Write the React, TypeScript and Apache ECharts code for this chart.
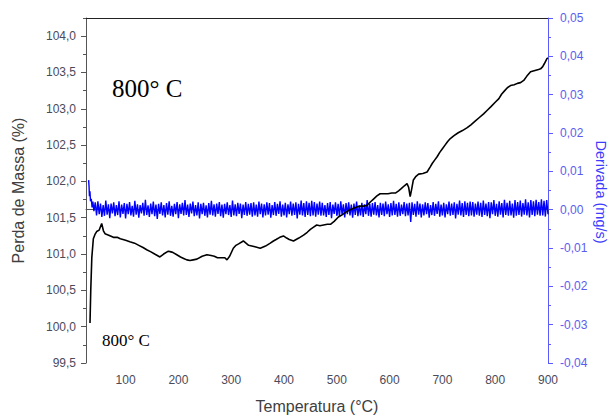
import React, { useEffect, useRef } from "react";
import * as echarts from "echarts";

// Mass curve: [temperature °C, mass %]
const massCurve: [number, number][] = [
  [32.6, 100.05], [34, 100.5], [36, 100.95], [38.9, 101.21], [42, 101.27], [45.2, 101.31], [50, 101.33],
  [54.7, 101.42], [58, 101.32], [61, 101.28], [68, 101.26], [76.8, 101.23], [84, 101.23], [90, 101.21],
  [100, 101.19], [108, 101.17], [117, 101.15], [125, 101.12], [133, 101.09], [140, 101.06], [148, 101.03],
  [155, 101.0], [160, 100.98], [165, 100.96], [172, 101.0], [181, 101.04], [186, 101.03], [190, 101.02],
  [197, 100.99], [204, 100.96], [210, 100.94], [216, 100.92], [222, 100.91], [228, 100.92], [235, 100.93],
  [245, 100.97], [254, 100.99], [262, 100.98], [268, 100.97], [274, 100.95], [279, 100.95], [288, 100.95],
  [292, 100.92], [297, 100.97], [304, 101.08], [309, 101.12], [314, 101.14], [323, 101.18], [328, 101.15],
  [333, 101.12], [339, 101.11], [345, 101.1], [355, 101.08], [365, 101.11], [374, 101.15], [380, 101.18],
  [385, 101.2], [392, 101.23], [399, 101.25], [405, 101.22], [410, 101.2], [418, 101.18], [428, 101.22],
  [437, 101.26], [444, 101.3], [450, 101.34], [456, 101.37], [462, 101.4], [468, 101.39], [475, 101.4],
  [482, 101.41], [488, 101.41], [495, 101.45], [503, 101.51], [510, 101.54], [518, 101.58], [525, 101.61],
  [532, 101.63], [539, 101.65], [545, 101.66], [551, 101.66], [557, 101.67], [564, 101.72], [570, 101.76],
  [576, 101.8], [582, 101.83], [590, 101.83], [597, 101.83], [604, 101.84], [611, 101.84], [617, 101.87],
  [622, 101.9], [628, 101.94], [633, 101.97], [636, 101.92], [639, 101.79], [642, 101.9], [645, 102.02],
  [650, 102.07], [655, 102.1], [663, 102.11], [671, 102.13], [677, 102.2], [681, 102.25], [686, 102.3],
  [690, 102.34], [695, 102.4], [700, 102.45], [705, 102.5], [710, 102.55], [715, 102.59], [722, 102.63],
  [730, 102.67], [738, 102.7], [747, 102.74], [754, 102.78], [762, 102.83], [770, 102.88], [778, 102.93],
  [785, 102.98], [792, 103.03], [800, 103.09], [807, 103.14], [812, 103.2], [818, 103.25], [823, 103.29],
  [829, 103.32], [836, 103.33], [842, 103.35], [848, 103.36], [854, 103.39], [860, 103.45], [867, 103.51],
  [872, 103.52], [877, 103.53], [882, 103.54], [886, 103.55], [890, 103.58], [893, 103.62], [898, 103.69],
  [900, 103.7],
];

// Derivative curve: [temperature °C, mg/s]
const derivCurve: [number, number][] = [
  [30, 0.0077], [30.8, 0.006], [31.5, 0.0035], [32.5, 0.0048], [33.5, 0.0022], [35, 0.0028], [36.5, 0.0006],
  [38, 0.0021], [40, -0.0004], [42.5, 0.0019], [45, -0.0015], [47.5, 0.0022], [50, -0.0012], [52.5, 0.0016],
  [55, -0.0019], [57.5, 0.0012], [60, -0.0016], [62.5, 0.0024], [65, -0.0013], [67.5, 0.0014],
  [70, -0.0022], [72.5, 0.0016], [75, -0.001], [77.5, 0.0019], [80, -0.0017], [82.5, 0.0012],
  [85, -0.0014], [87.5, 0.0022], [90, -0.002], [92.5, 0.0013], [95, -0.0011], [97.5, 0.0017],
  [100, -0.0023], [102.5, 0.0015], [105, -0.0012], [107.5, 0.002], [110, -0.0015], [112.5, 0.001],
  [115, -0.0018], [117.5, 0.0023], [120, -0.0013], [122.5, 0.0014], [125, -0.0021], [127.5, 0.0012],
  [130, -0.001], [132.5, 0.0018], [135, -0.0016], [137.5, 0.0026], [140, -0.0014], [142.5, 0.0011],
  [145, -0.0019], [147.5, 0.0016], [150, -0.0012], [152.5, 0.0021], [155, -0.0017], [157.5, 0.0013],
  [160, -0.0024], [162.5, 0.0015], [165, -0.0011], [167.5, 0.0019], [170, -0.0015], [172.5, 0.0012],
  [175, -0.002], [177.5, 0.0017], [180, -0.0013], [182.5, 0.0022], [185, -0.0016], [187.5, 0.001],
  [190, -0.0018], [192.5, 0.0015], [195, -0.0012], [197.5, 0.002], [200, -0.0022], [202.5, 0.0014],
  [205, -0.0011], [207.5, 0.0018], [210, -0.0015], [212.5, 0.0025], [215, -0.0014], [217.5, 0.0013],
  [220, -0.0019], [222.5, 0.0016], [225, -0.001], [227.5, 0.0021], [230, -0.0017], [232.5, 0.0012],
  [235, -0.0015], [237.5, 0.0019], [240, -0.0023], [242.5, 0.0015], [245, -0.0012], [247.5, 0.0018],
  [250, -0.0016], [252.5, 0.0011], [255, -0.002], [257.5, 0.0017], [260, -0.0013], [262.5, 0.0023],
  [265, -0.0015], [267.5, 0.0014], [270, -0.0018], [272.5, 0.0016], [275, -0.0011], [277.5, 0.002],
  [280, -0.0017], [282.5, 0.0013], [285, -0.0021], [287.5, 0.0015], [290, -0.0012], [292.5, 0.0019],
  [295, -0.0014], [297.5, 0.0012], [300, -0.0019], [302.5, 0.0024], [305, -0.0015], [307.5, 0.0014],
  [310, -0.0017], [312.5, 0.0018], [315, -0.0011], [317.5, 0.0016], [320, -0.0022], [322.5, 0.0013],
  [325, -0.0014], [327.5, 0.002], [330, -0.0016], [332.5, 0.0015], [335, -0.0013], [337.5, 0.0017],
  [340, -0.0018], [342.5, 0.0019], [345, -0.0015], [347.5, 0.0013], [350, -0.0018], [352.5, 0.0021],
  [355, -0.0012], [357.5, 0.0016], [360, -0.002], [362.5, 0.0014], [365, -0.0015], [367.5, 0.0019],
  [370, -0.0013], [372.5, 0.0017], [375, -0.0021], [377.5, 0.0012], [380, -0.0014], [382.5, 0.002],
  [385, -0.0016], [387.5, 0.0015], [390, -0.0011], [392.5, 0.0022], [395, -0.0018], [397.5, 0.0013],
  [400, -0.0015], [402.5, 0.0018], [405, -0.002], [407.5, 0.0014], [410, -0.0012], [412.5, 0.0021],
  [415, -0.0016], [417.5, 0.0016], [420, -0.0014], [422.5, 0.0019], [425, -0.0023], [427.5, 0.0015],
  [430, -0.0013], [432.5, 0.0024], [435, -0.0015], [437.5, 0.0017], [440, -0.0019], [442.5, 0.0022],
  [445, -0.0014], [447.5, 0.0018], [450, -0.0017], [452.5, 0.0023], [455, -0.0015], [457.5, 0.002],
  [460, -0.0018], [462.5, 0.0016], [465, -0.0013], [467.5, 0.0021], [470, -0.0016], [472.5, 0.0018],
  [475, -0.0015], [477.5, 0.0012], [480, -0.0019], [482.5, 0.0017], [485, -0.0014], [487.5, 0.002],
  [490, -0.0022], [492.5, 0.0013], [495, -0.0011], [497.5, 0.0019], [500, -0.0016], [502.5, 0.0015],
  [505, -0.0018], [507.5, 0.0022], [510, -0.0013], [512.5, 0.0014], [515, -0.002], [517.5, 0.0017],
  [520, -0.0012], [522.5, 0.0019], [525, -0.0015], [527.5, 0.0013], [530, -0.0021], [532.5, 0.0016],
  [535, -0.0014], [537.5, 0.0021], [540, -0.0017], [542.5, 0.0011], [545, -0.0015], [547.5, 0.0018],
  [550, -0.0019], [552.5, 0.0014], [555, -0.0012], [557.5, 0.0025], [560, -0.0016], [562.5, 0.0015],
  [565, -0.0018], [567.5, 0.0017], [570, -0.0013], [572.5, 0.002], [575, -0.0015], [577.5, 0.0012],
  [580, -0.002], [582.5, 0.0018], [585, -0.0014], [587.5, 0.0016], [590, -0.0017], [592.5, 0.0021],
  [595, -0.0012], [597.5, 0.0014], [600, -0.0019], [602.5, 0.0017], [605, -0.0015], [607.5, 0.0023],
  [610, -0.0014], [612.5, 0.0015], [615, -0.0018], [617.5, 0.0019], [620, -0.0016], [622.5, 0.0013],
  [625, -0.0012], [627.5, 0.002], [630, -0.0017], [632.5, 0.0016], [635, -0.0015], [637.5, 0.0018],
  [640, -0.0032], [642.5, 0.0019], [645, -0.0014], [647.5, 0.0015], [650, -0.0018], [652.5, 0.0022],
  [655, -0.0013], [657.5, 0.0016], [660, -0.002], [662.5, 0.0014], [665, -0.0015], [667.5, 0.0019],
  [670, -0.0012], [672.5, 0.0017], [675, -0.0021], [677.5, 0.0012], [680, -0.0014], [682.5, 0.002],
  [685, -0.0016], [687.5, 0.0015], [690, -0.0011], [692.5, 0.0022], [695, -0.0018], [697.5, 0.0013],
  [700, -0.0015], [702.5, 0.0018], [705, -0.002], [707.5, 0.0014], [710, -0.0012], [712.5, 0.0021],
  [715, -0.0016], [717.5, 0.0016], [720, -0.0014], [722.5, 0.0019], [725, -0.0023], [727.5, 0.0015],
  [730, -0.0013], [732.5, 0.0024], [735, -0.0015], [737.5, 0.0017], [740, -0.0019], [742.5, 0.0022],
  [745, -0.0014], [747.5, 0.0018], [750, -0.0017], [752.5, 0.0021], [755, -0.0015], [757.5, 0.002],
  [760, -0.0018], [762.5, 0.0016], [765, -0.0013], [767.5, 0.0021], [770, -0.0016], [772.5, 0.0018],
  [775, -0.0019], [777.5, 0.0024], [780, -0.0014], [782.5, 0.0016], [785, -0.0017], [787.5, 0.002],
  [790, -0.0022], [792.5, 0.0019], [795, -0.0012], [797.5, 0.0025], [800, -0.0016], [802.5, 0.0015],
  [805, -0.0018], [807.5, 0.0022], [810, -0.0013], [812.5, 0.0017], [815, -0.002], [817.5, 0.0026],
  [820, -0.0014], [822.5, 0.0018], [825, -0.0016], [827.5, 0.0023], [830, -0.0015], [832.5, 0.0016],
  [835, -0.0021], [837.5, 0.0025], [840, -0.0016], [842.5, 0.002], [845, -0.0014], [847.5, 0.0024],
  [850, -0.0018], [852.5, 0.0017], [855, -0.0013], [857.5, 0.0027], [860, -0.0015], [862.5, 0.0019],
  [865, -0.002], [867.5, 0.0025], [870, -0.0014], [872.5, 0.0022], [875, -0.0017], [877.5, 0.0026],
  [880, -0.0013], [882.5, 0.002], [885, -0.0016], [887.5, 0.0027], [890, -0.0015], [892.5, 0.0023],
  [895, -0.0018], [897.5, 0.0025], [900, -0.0012],
];

const tempTicks = [100, 200, 300, 400, 500, 600, 700, 800, 900];
const massTicks = [99.5, 100, 100.5, 101, 101.5, 102, 102.5, 103, 103.5, 104];
const massMinorTicks = [99.75, 100.25, 100.75, 101.25, 101.75, 102.25, 102.75, 103.25, 103.75, 104.25];

const X_MIN = 25;
const X_MAX = 900;
const M_MIN = 99.5;
const M_MAX = 104.25;
const D_MIN = -0.04;
const D_MAX = 0.05;

const FONT = "'Liberation Sans', Arial, sans-serif";
const SERIF = "'Liberation Serif', 'Times New Roman', serif";
const BLUE_AXIS = "#5a5aff";
const GRAY = "#555555";
const LABEL_GRAY = "#4a4a5a";

const comma = (v: number, d: number) => v.toFixed(d).replace(".", ",");

export default function App() {
  const ref = useRef<HTMLDivElement>(null);
  useEffect(() => {
    if (!ref.current) return;
    const chart = echarts.init(ref.current, null, { renderer: "svg" });
    chart.setOption({
      animation: false,
      backgroundColor: "#ffffff",
      grid: { left: 86, right: 64, top: 18, bottom: 53, containLabel: false, outerBoundsMode: "none" },
      xAxis: [
        {
          type: "value",
          min: X_MIN,
          max: X_MAX,
          position: "bottom",
          axisLine: { show: true, lineStyle: { color: GRAY, width: 1 } },
          axisTick: { show: true, customValues: tempTicks, length: 5, lineStyle: { color: GRAY } },
          axisLabel: {
            customValues: tempTicks,
            color: LABEL_GRAY,
            fontSize: 12,
            fontFamily: FONT,
            margin: 11,
          },
          splitLine: { show: false },
          name: "Temperatura (°C)",
          nameLocation: "middle",
          nameGap: 35,
          nameTextStyle: { color: "#404040", fontSize: 16, fontFamily: FONT },
        },
        {
          type: "value",
          min: X_MIN,
          max: X_MAX,
          position: "top",
          axisLine: { show: true, lineStyle: { color: "#222222", width: 1 } },
          axisTick: { show: false },
          axisLabel: { show: false },
          splitLine: { show: false },
        },
      ],
      yAxis: [
        {
          type: "value",
          min: M_MIN,
          max: M_MAX,
          position: "left",
          axisLine: { show: true, lineStyle: { color: GRAY, width: 1 } },
          axisTick: { show: true, customValues: massTicks, length: 5, lineStyle: { color: GRAY } },
          axisLabel: {
            customValues: massTicks,
            formatter: (v: number) => comma(v, 1),
            color: LABEL_GRAY,
            fontSize: 12,
            fontFamily: FONT,
            margin: 10,
          },
          splitLine: { show: false },
          name: "Perda de Massa (%)",
          nameLocation: "middle",
          nameGap: 60,
          nameTextStyle: { color: "#404040", fontSize: 16, fontFamily: FONT },
        },
        {
          type: "value",
          min: D_MIN,
          max: D_MAX,
          interval: 0.01,
          position: "right",
          axisLine: { show: true, lineStyle: { color: BLUE_AXIS, width: 1 } },
          axisTick: { show: true, length: 5, lineStyle: { color: BLUE_AXIS } },
          minorTick: { show: true, splitNumber: 2, length: 3, lineStyle: { color: BLUE_AXIS } },
          axisLabel: {
            formatter: (v: number) => comma(v, 2),
            color: "#5c5cf0",
            fontSize: 12,
            fontFamily: FONT,
            margin: 12,
          },
          splitLine: { show: false },
        },
        {
          type: "value",
          min: M_MIN,
          max: M_MAX,
          position: "left",
          axisLine: { show: false },
          axisTick: { show: true, customValues: massMinorTicks, length: 3, lineStyle: { color: GRAY } },
          axisLabel: { show: false },
          splitLine: { show: false },
        },
      ],
      series: [
        {
          type: "line",
          name: "Derivada",
          xAxisIndex: 0,
          yAxisIndex: 1,
          data: derivCurve,
          showSymbol: false,
          symbol: "none",
          lineStyle: { color: "#0000ff", width: 1.4 },
          z: 2,
        },
        {
          type: "line",
          name: "Perda de Massa",
          xAxisIndex: 0,
          yAxisIndex: 0,
          data: massCurve,
          showSymbol: false,
          symbol: "none",
          lineStyle: { color: "#000000", width: 1.6 },
          z: 3,
        },
      ],
      graphic: [
        {
          type: "text",
          left: 112,
          top: 76,
          style: { text: "800° C", fontSize: 25, fontFamily: SERIF, fill: "#000000" },
        },
        {
          type: "text",
          left: 102,
          top: 332,
          style: { text: "800° C", fontSize: 17, fontFamily: SERIF, fill: "#000000" },
        },
        {
          type: "text",
          x: 601,
          y: 192,
          rotation: -Math.PI / 2,
          style: {
            text: "Derivada (mg/s)",
            fontSize: 14.5,
            fontFamily: FONT,
            fill: "#3c3cff",
            align: "center",
            verticalAlign: "middle",
          },
        },
      ],
    });
    return () => chart.dispose();
  }, []);
  return (
    <div
      ref={ref}
      style={{ position: "absolute", left: 0, top: 0, width: 612, height: 416, background: "#fff" }}
    />
  );
}
